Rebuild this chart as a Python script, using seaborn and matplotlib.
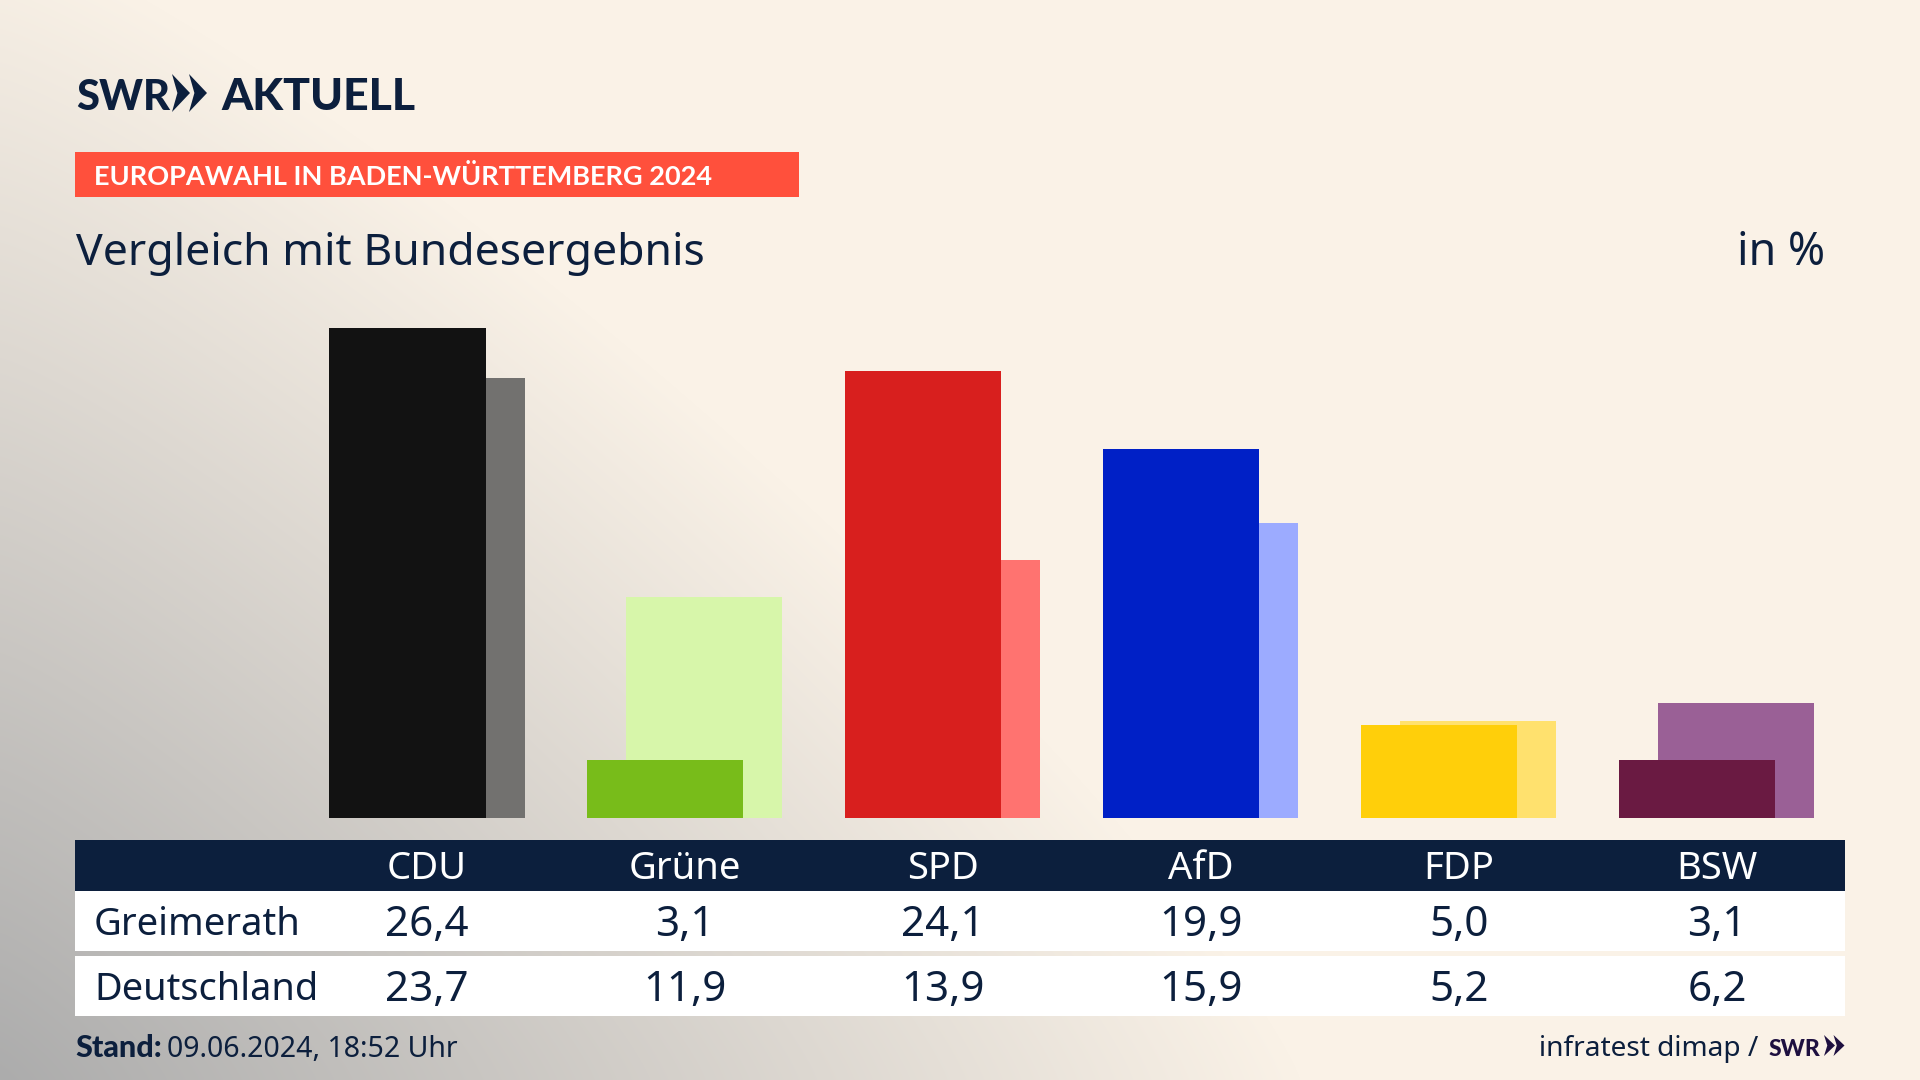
import numpy as np
import pandas as pd
import seaborn as sns
import matplotlib
matplotlib.use("Agg")
import matplotlib.pyplot as plt
from matplotlib.patches import Rectangle, Polygon

# ---- data ----
parties = ["CDU", "Grüne", "SPD", "AfD", "FDP", "BSW"]
greimerath = [26.4, 3.1, 24.1, 19.9, 5.0, 3.1]
deutschland = [23.7, 11.9, 13.9, 15.9, 5.2, 6.2]
greimerath_labels = ["26,4", "3,1", "24,1", "19,9", "5,0", "3,1"]
deutschland_labels = ["23,7", "11,9", "13,9", "15,9", "5,2", "6,2"]
colors_front = ["#121212", "#78BC1A", "#D81F1E", "#0020C6", "#FFCF0A", "#6A1A42"]
colors_back = ["#72716F", "#D7F6AA", "#FF7370", "#9CABFF", "#FFE16E", "#9A6096"]

W, H = 1920, 1080
NAVY = "#0C1F3D"
FONT = "Noto Sans"
BOLD = "Lato"

sns.set_theme(style="white")
plt.rcParams["font.family"] = [FONT, "DejaVu Sans"]
fig = plt.figure(figsize=(W / 100, H / 100), dpi=100)

# background with soft grey glow from the lower-left corner
bg = fig.add_axes([0, 0, 1, 1], zorder=0)
yy, xx = np.mgrid[0:H, 0:W]
p = 1.2
d = ((xx / 1300.0) ** p + ((H - yy) / 1150.0) ** p) ** (1 / p)
t = np.clip(1 - d, 0, 1)
cream = np.array([250, 242, 231]) / 255
grey = np.array([172, 172, 172]) / 255
img = cream[None, None, :] * (1 - t[..., None]) + grey[None, None, :] * t[..., None]
bg.imshow(img, extent=(0, W, H, 0), aspect="auto", interpolation="bilinear")
bg.set_xlim(0, W)
bg.set_ylim(H, 0)
bg.axis("off")

# bars
left, right, top, bottom = 75, 1845, 300, 818
step = 258.0
center0 = 426.8
bar_px = 156.4
off_px = 19.5
px_per_unit = 18.56
ax = fig.add_axes([left / W, 1 - bottom / H, (right - left) / W, (bottom - top) / H], zorder=1)
ax.patch.set_alpha(0)
pos = np.arange(len(parties))
back = pd.DataFrame({"x": pos + off_px / step, "y": deutschland, "p": parties})
front = pd.DataFrame({"x": pos - off_px / step, "y": greimerath, "p": parties})
sns.barplot(data=back, x="x", y="y", hue="p", palette=colors_back, native_scale=True,
            width=bar_px / step, dodge=False, legend=False, saturation=1, linewidth=0,
            ax=ax, zorder=2)
sns.barplot(data=front, x="x", y="y", hue="p", palette=colors_front, native_scale=True,
            width=bar_px / step, dodge=False, legend=False, saturation=1, linewidth=0,
            ax=ax, zorder=3)
ax.set_xlim((left - center0) / step, (right - center0) / step)
ax.set_ylim(0, (bottom - top) / px_per_unit)
ax.axis("off")

# overlay in pixel coordinates
ov = fig.add_axes([0, 0, 1, 1], zorder=2)
ov.set_xlim(0, W)
ov.set_ylim(H, 0)
ov.axis("off")
ov.patch.set_alpha(0)


def chevrons(x, y0, y1, w, gap, color):
    mid = (y0 + y1) / 2
    for i in range(2):
        a = x + i * gap
        ov.add_patch(Polygon([(a, y0), (a + w, mid), (a, y1), (a + w * 0.3, mid)],
                             closed=True, fc=color, ec="none"))


# logo
ov.text(76, 110, "SWR", fontsize=30, fontweight="black", family=BOLD, color=NAVY, va="baseline", ha="left")
chevrons(172, 74, 112, 18, 17, NAVY)
ov.text(221, 110, "AKTUELL", fontsize=32, fontweight="black", family=BOLD, color=NAVY, va="baseline", ha="left")

# red banner
ov.add_patch(Rectangle((75, 152), 724, 45, fc="#FF503C", ec="none"))
ov.text(94, 185, "EUROPAWAHL IN BADEN-WÜRTTEMBERG 2024", fontsize=19.5, fontweight="bold", family=BOLD,
        color="white", va="baseline", ha="left")

# headings
ov.text(76, 265, "Vergleich mit Bundesergebnis", fontsize=32.1, color=NAVY, va="baseline", ha="left")
ov.text(1825, 265, "in %", fontsize=32.2, color=NAVY, va="baseline", ha="right")

# table
ov.add_patch(Rectangle((75, 840), 1770, 51, fc=NAVY, ec="none"))
ov.add_patch(Rectangle((75, 891), 1770, 60, fc="white", ec="none"))
ov.add_patch(Rectangle((75, 956), 1770, 60, fc="white", ec="none"))
centers = 427 + pos * step
for c, p_, a, b in zip(centers, parties, greimerath_labels, deutschland_labels):
    ov.text(c, 879, p_, fontsize=27.5, color="white", va="baseline", ha="center")
    ov.text(c, 936, a, fontsize=30.3, color=NAVY, va="baseline", ha="center")
    ov.text(c, 1001, b, fontsize=30.3, color=NAVY, va="baseline", ha="center")
ov.text(94, 935, "Greimerath", fontsize=27.5, color=NAVY, va="baseline", ha="left")
ov.text(94, 1000, "Deutschland", fontsize=27.3, color=NAVY, va="baseline", ha="left")

# footer
ov.text(75, 1057, "Stand:", fontsize=22, fontweight="black", family=BOLD, color=NAVY, va="baseline", ha="left")
ov.text(167, 1057, "09.06.2024, 18:52 Uhr", fontsize=20.5, color=NAVY, va="baseline", ha="left")
ov.text(1758.5, 1056, "infratest dimap /", fontsize=20.2, color=NAVY, va="baseline", ha="right")
ov.text(1769, 1056, "SWR", fontsize=16.5, fontweight="black", family=BOLD, color="#1E1040", va="baseline", ha="left")
chevrons(1824, 1035, 1056, 11, 9.5, "#1E1040")

fig.savefig("out.png", dpi=100)
